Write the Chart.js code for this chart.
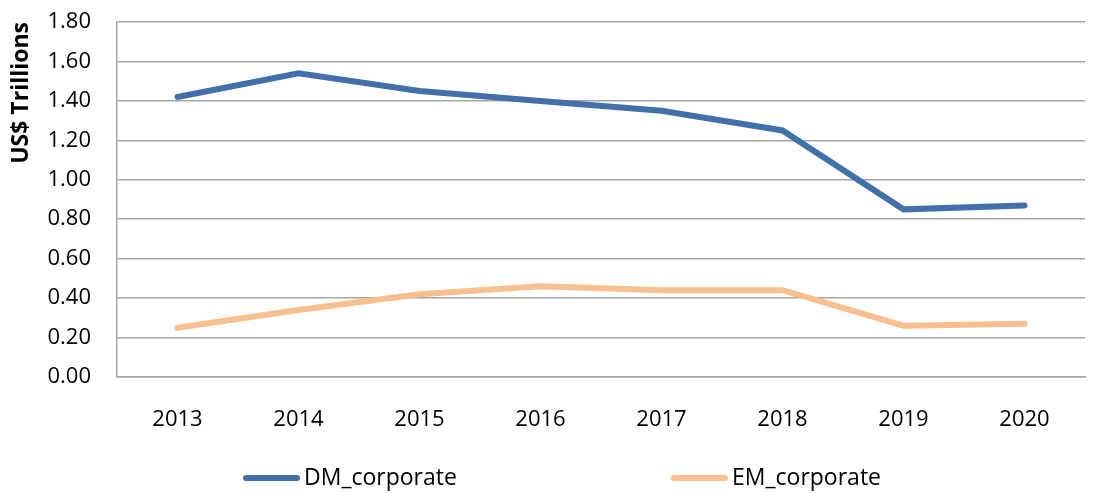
<!DOCTYPE html>
<html>
<head>
<meta charset="utf-8">
<script src="https://cdn.jsdelivr.net/npm/chart.js@4"></script>
<style>
  html, body { margin: 0; padding: 0; background: #fff; }
  #wrap { width: 1094px; height: 493px; }
</style>
</head>
<body>
<div id="wrap"><canvas id="debtChart"></canvas></div>
<script>
// x-axis labels
var years = ['2013', '2014', '2015', '2016', '2017', '2018', '2019', '2020'];
// US$ trillions
var dmCorporate = [1.42, 1.54, 1.45, 1.40, 1.35, 1.25, 0.85, 0.87];
var emCorporate = [0.25, 0.34, 0.42, 0.46, 0.44, 0.44, 0.26, 0.27];
var yTicks = [0, 0.2, 0.4, 0.6, 0.8, 1.0, 1.2, 1.4, 1.6, 1.8];

var font = "'Open Sans', sans-serif";

// legend drawn under the axis, like the Excel one
var bottomLegend = {
  id: 'bottomLegend',
  afterDraw: function (chart) {
    var c = chart.ctx;
    var spots = [243, 671];
    c.save();
    c.font = '23px ' + font;
    c.textBaseline = 'middle';
    chart.data.datasets.forEach(function (ds, i) {
      var x = spots[i], y = 478;
      c.strokeStyle = ds.borderColor;
      c.lineWidth = 6;
      c.lineCap = 'round';
      c.beginPath();
      c.moveTo(x + 3, y);
      c.lineTo(x + 54, y);
      c.stroke();
      c.fillStyle = '#000';
      c.fillText(ds.label, x + 61, y);
    });
    c.restore();
  }
};

var ctx = document.getElementById('debtChart');
var myChart = new Chart(ctx, {
  type: 'line',
  data: {
    labels: years,
    datasets: [
      {
        data: dmCorporate,
        label: 'DM_corporate',
        borderColor: '#4170AA',
        borderWidth: 6,
        pointRadius: 0,
        borderCapStyle: 'round',
        fill: false
      },
      {
        data: emCorporate,
        label: 'EM_corporate',
        borderColor: '#F9C08F',
        borderWidth: 6,
        pointRadius: 0,
        borderCapStyle: 'round',
        fill: false
      }
    ]
  },
  options: {
    responsive: true,
    maintainAspectRatio: false,
    animation: false,
    layout: { padding: { top: 22, right: 9, bottom: 66, left: 8 } },
    plugins: {
      legend: { display: false },
      tooltip: { enabled: false }
    },
    scales: {
      x: {
        offset: true,
        grid: { display: false },
        border: { display: true, color: '#a6a6a6', width: 1.5 },
        ticks: { color: '#000', font: { family: font, size: 22 }, padding: 22, maxRotation: 0 },
        afterFit: function (s) { s.height = 50; s.paddingLeft = 0; s.paddingRight = 0; }
      },
      y: {
        min: 0,
        max: 1.8,
        afterBuildTicks: function (s) { s.ticks = yTicks.map(function (v) { return { value: v }; }); },
        grid: { color: '#a6a6a6', lineWidth: 1.5, drawTicks: false },
        border: { display: true, color: '#a6a6a6', width: 1.5 },
        ticks: {
          color: '#000',
          font: { family: font, size: 22 },
          padding: 26,
          callback: function (v) { return Number(v).toFixed(2); }
        },
        title: {
          display: true,
          align: 'end',
          text: 'US$ Trillions',
          color: '#000',
          font: { family: font, size: 23, weight: 'bold' },
          padding: 0
        },
        afterFit: function (s) { s.width = 109; s.paddingTop = 0; s.paddingBottom = 0; }
      }
    }
  },
  plugins: [bottomLegend]
});
</script>
</body>
</html>
